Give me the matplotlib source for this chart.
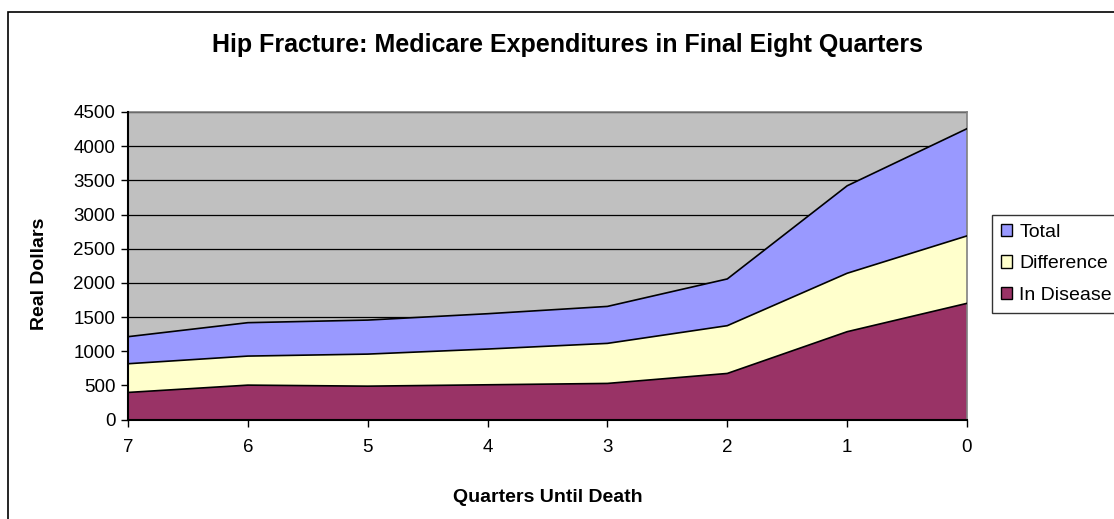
import matplotlib
matplotlib.use("Agg")
import matplotlib.pyplot as plt
from matplotlib.patches import Patch, Rectangle

plt.rcParams["font.family"] = ["Liberation Sans", "DejaVu Sans"]

quarters = ["7", "6", "5", "4", "3", "2", "1", "0"]
total = [1212, 1417, 1455, 1548, 1655, 2057, 3420, 4256]
difference = [816, 928, 957, 1031, 1114, 1373, 2140, 2687]
in_disease = [396, 503, 488, 508, 528, 674, 1285, 1700]

W, H = 1114, 519
fig = plt.figure(figsize=(W / 100, H / 100), dpi=100)

# outer chart border (open at right and bottom, like the crop)
fig.patches.append(Rectangle((8 / W, -0.1), 1.2, 1 - 12 / H + 0.1,
                             transform=fig.transFigure, fill=False,
                             edgecolor="black", linewidth=1.2))

ax = fig.add_axes([128 / W, 1 - 419.5 / H, (967 - 128) / W, (419.5 - 112) / H])
ax.set_facecolor("#C0C0C0")

x = list(range(len(quarters)))
series = [
    ("Total", total, "#9999FF"),
    ("Difference", difference, "#FFFFCC"),
    ("In Disease", in_disease, "#993366"),
]
for name, vals, col in series:
    ax.fill_between(x, 0, vals, facecolor=col, edgecolor="none", zorder=2)
    ax.plot(x, vals, color="black", linewidth=1.2, zorder=3)

ax.set_xlim(0, len(quarters) - 1)
ax.set_ylim(0, 4500)
ax.set_yticks(range(0, 4501, 500))
ax.set_xticks(x)
ax.set_xticklabels(quarters)
ax.yaxis.grid(True, color="black", linewidth=0.9, zorder=1)
ax.set_axisbelow(True)

ax.tick_params(axis="both", direction="out", length=5, width=1,
               labelsize=13.5, color="black")
ax.tick_params(axis="x", pad=9)
ax.tick_params(axis="y", pad=4)

for side in ["top", "right"]:
    ax.spines[side].set_color("#808080")
    ax.spines[side].set_linewidth(1.2)
for side in ["left", "bottom"]:
    ax.spines[side].set_color("black")
    ax.spines[side].set_linewidth(1.5)
    ax.spines[side].set_zorder(4)

fig.text(567 / W, 1 - 45 / H, "Hip Fracture: Medicare Expenditures in Final Eight Quarters",
         ha="center", va="center", fontsize=18, fontweight="bold")
fig.text(548 / W, 1 - 497 / H, "Quarters Until Death", ha="center", va="center",
         fontsize=14, fontweight="bold")
fig.text(40 / W, 1 - 274 / H, "Real Dollars", ha="center", va="center",
         rotation=90, fontsize=14, fontweight="bold")

handles = [Patch(facecolor=col, edgecolor="black", label=name) for name, _, col in series]
leg = fig.legend(handles=handles, loc="upper left",
                 bbox_to_anchor=(992 / W, 1 - 215 / H), fontsize=14,
                 frameon=True, fancybox=False, borderpad=0.45,
                 handlelength=0.6, handleheight=0.6, handletextpad=0.35,
                 labelspacing=0.75, borderaxespad=0)
leg.get_frame().set_edgecolor("black")
leg.get_frame().set_linewidth(1.0)

fig.savefig("out.png", dpi=100)
